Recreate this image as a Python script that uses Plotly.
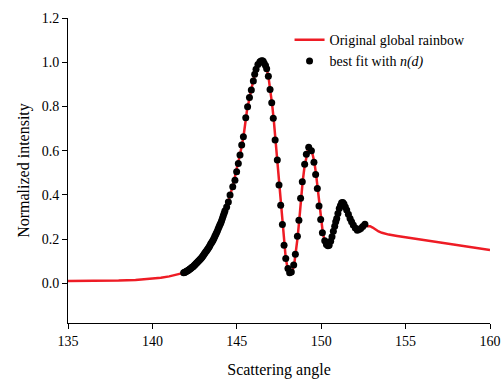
import plotly.graph_objects as go

# Original global rainbow (normalized intensity vs scattering angle, degrees)
rainbow_angle = [
    135.0, 136.0, 137.0, 138.0, 139.0, 139.5, 140.0, 140.5, 141.0, 141.5,
    141.9, 142.2, 142.5, 142.8, 143.1, 143.4, 143.7, 144.0, 144.2, 144.4,
    144.6, 144.8, 145.0, 145.2, 145.4, 145.6, 145.8, 146.0, 146.2, 146.4,
    146.5, 146.6, 146.7, 146.8, 146.9, 147.0, 147.1, 147.2, 147.3, 147.4,
    147.5, 147.6, 147.7, 147.8, 147.9, 148.0, 148.1, 148.2, 148.3, 148.4,
    148.5, 148.6, 148.7, 148.8, 148.9, 149.0, 149.1, 149.2, 149.3, 149.4,
    149.5, 149.6, 149.7, 149.8, 149.9, 150.0, 150.1, 150.2, 150.3, 150.4,
    150.5, 150.6, 150.7, 150.8, 150.9, 151.0, 151.1, 151.2, 151.3, 151.4,
    151.5, 151.6, 151.7, 151.8, 151.9, 152.0, 152.1, 152.2, 152.3, 152.4,
    152.5, 152.6, 152.75, 152.9, 153.05, 153.2, 153.4, 153.6, 153.8, 154.0,
    154.5, 155.0, 155.5, 156.0, 156.5, 157.0, 157.5, 158.0, 158.5, 159.0,
    159.5, 160.0,
]
rainbow_value = [
    0.010, 0.010, 0.011, 0.012, 0.015, 0.018, 0.021, 0.025, 0.031, 0.040,
    0.048, 0.062, 0.080, 0.104, 0.136, 0.170, 0.212, 0.264, 0.305, 0.345,
    0.398, 0.450, 0.520, 0.585, 0.665, 0.780, 0.855, 0.925, 0.978, 1.001,
    1.007, 1.002, 0.985, 0.960, 0.920, 0.870, 0.805, 0.730, 0.640, 0.557,
    0.455, 0.360, 0.268, 0.175, 0.113, 0.072, 0.052, 0.048, 0.056, 0.085,
    0.135, 0.205, 0.285, 0.384, 0.459, 0.520, 0.565, 0.600, 0.615, 0.607,
    0.580, 0.545, 0.490, 0.423, 0.345, 0.283, 0.225, 0.195, 0.176, 0.170,
    0.178, 0.200, 0.228, 0.258, 0.288, 0.318, 0.343, 0.362, 0.362, 0.350,
    0.333, 0.312, 0.294, 0.278, 0.264, 0.252, 0.243, 0.240, 0.244, 0.249,
    0.256, 0.262, 0.258, 0.258, 0.252, 0.243, 0.234, 0.228, 0.224, 0.220,
    0.214, 0.208, 0.201, 0.195, 0.189, 0.183, 0.177, 0.171, 0.165, 0.160,
    0.155, 0.150,
]

# Best fit with n(d)
fit_angle = [
    141.85, 141.90, 141.95, 142.00, 142.05, 142.10, 142.15, 142.20, 142.25, 142.30,
    142.35, 142.40, 142.45, 142.50, 142.55, 142.60, 142.65, 142.70, 142.75, 142.80,
    142.85, 142.90, 142.95, 143.00, 143.05, 143.10, 143.15, 143.20, 143.25, 143.30,
    143.35, 143.40, 143.45, 143.50, 143.55, 143.60, 143.65, 143.70, 143.75, 143.80,
    143.85, 143.90, 143.95, 144.00, 144.05, 144.10, 144.15, 144.20, 144.25, 144.30,
    144.40, 144.50, 144.60, 144.76, 144.89, 144.99, 145.09, 145.19, 145.29, 145.39,
    145.53, 145.64, 145.75, 145.86, 145.98, 146.06, 146.14, 146.25, 146.37, 146.44,
    146.51, 146.56, 146.62, 146.70, 146.77, 146.87, 146.97, 147.07, 147.16, 147.27,
    147.40, 147.50, 147.60, 147.70, 147.80, 147.90, 148.03, 148.13, 148.23, 148.37,
    148.47, 148.59, 148.68, 148.78, 148.88, 149.02, 149.12, 149.26, 149.42, 149.57,
    149.67, 149.77, 149.87, 149.97, 150.07, 150.21, 150.31, 150.40, 150.47, 150.56,
    150.64, 150.72, 150.80, 150.86, 150.92, 150.99, 151.07, 151.14, 151.21, 151.28,
    151.35, 151.43, 151.51, 151.61, 151.71, 151.80, 151.90, 152.02, 152.14, 152.24,
    152.34, 152.46, 152.59,
]
fit_value = [
    0.047, 0.049, 0.051, 0.053, 0.055, 0.058, 0.060, 0.063, 0.066, 0.069,
    0.072, 0.075, 0.078, 0.082, 0.086, 0.090, 0.094, 0.098, 0.102, 0.106,
    0.110, 0.114, 0.119, 0.124, 0.130, 0.136, 0.141, 0.146, 0.151, 0.157,
    0.163, 0.170, 0.177, 0.183, 0.189, 0.196, 0.204, 0.212, 0.220, 0.228,
    0.236, 0.246, 0.255, 0.264, 0.272, 0.283, 0.294, 0.305, 0.317, 0.328,
    0.345, 0.368, 0.399, 0.436, 0.466, 0.504, 0.542, 0.580, 0.625, 0.663,
    0.749, 0.798, 0.840, 0.874, 0.915, 0.945, 0.968, 0.990, 1.002, 1.006,
    1.007, 1.004, 0.995, 0.985, 0.970, 0.937, 0.877, 0.817, 0.746, 0.648,
    0.557, 0.444, 0.353, 0.266, 0.172, 0.112, 0.067, 0.047, 0.051, 0.082,
    0.131, 0.213, 0.285, 0.384, 0.459, 0.538, 0.584, 0.615, 0.599, 0.547,
    0.492, 0.429, 0.349, 0.288, 0.228, 0.192, 0.175, 0.170, 0.172, 0.190,
    0.210, 0.235, 0.258, 0.278, 0.293, 0.315, 0.338, 0.352, 0.364, 0.365,
    0.358, 0.345, 0.331, 0.312, 0.293, 0.278, 0.263, 0.250, 0.240, 0.243,
    0.248, 0.257, 0.267,
]

x_ticks = [135, 140, 145, 150, 155, 160]
y_ticks = [0.0, 0.2, 0.4, 0.6, 0.8, 1.0, 1.2]
y_tick_text = ["0.0", "0.2", "0.4", "0.6", "0.8", "1.0", "1.2"]

serif = "Liberation Serif"

fig = go.Figure()
fig.add_trace(go.Scatter(
    x=rainbow_angle, y=rainbow_value, mode="lines",
    line=dict(color="#ee1c25", width=2.5),
    name="Original global rainbow",
))
fig.add_trace(go.Scatter(
    x=fit_angle, y=fit_value, mode="markers",
    marker=dict(color="black", size=7),
    name="best fit with <i>n(d)</i>",
))

axis_common = dict(
    showgrid=False, zeroline=False, showline=True, linecolor="black",
    linewidth=1, ticks="outside", ticklen=5, tickcolor="black",
    tickfont=dict(family=serif, size=14, color="black"),
    automargin=False,
)
fig.update_xaxes(
    range=[135, 160], tickvals=x_ticks,
    title=dict(text="Scattering angle", font=dict(family=serif, size=16, color="black"), standoff=16),
    **axis_common,
)
fig.update_yaxes(
    range=[-0.18, 1.2], tickvals=y_ticks, ticktext=y_tick_text,
    title=dict(text="Normalized intensity", font=dict(family=serif, size=16, color="black"), standoff=8),
    **axis_common,
)
fig.update_layout(
    width=501, height=381,
    margin=dict(l=68, r=11, t=18, b=58),
    paper_bgcolor="white", plot_bgcolor="white",
    showlegend=True,
    legend=dict(
        x=0.525, y=0.98, xanchor="left", yanchor="top",
        font=dict(family=serif, size=14, color="black"),
        bgcolor="rgba(0,0,0,0)", tracegroupgap=0,
    ),
)

fig.write_html("out.html")
